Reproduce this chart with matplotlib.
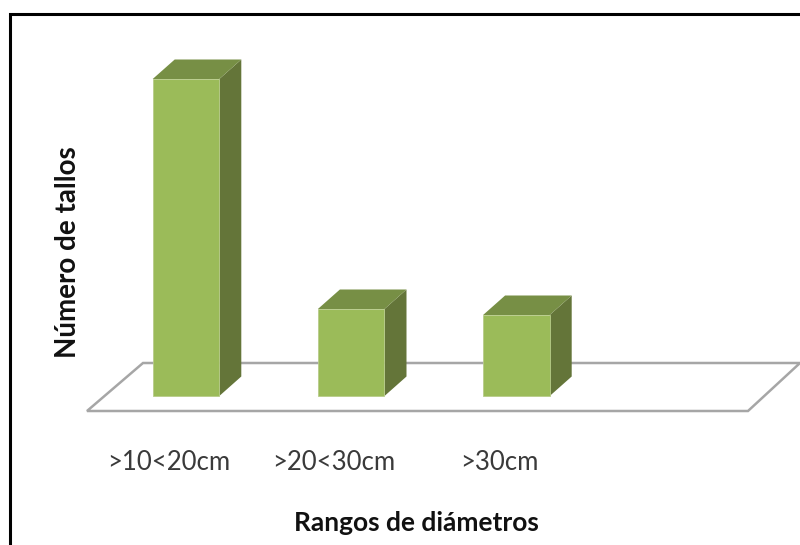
import matplotlib
matplotlib.use("Agg")
import matplotlib.pyplot as plt
from matplotlib.patches import Polygon, Rectangle

categories = [">10<20cm", ">20<30cm", ">30cm"]
stems = [317, 87, 81]

FACE = "#9bbb59"
TOP = "#778f45"
SIDE = "#647539"
EDGE = "#b8cc8a"
FLOOR = "#a6a6a6"
TEXT = "#3a3a3a"

plt.rcParams["font.family"] = ["Lato", "DejaVu Sans"]

W, H = 800, 545
fig = plt.figure(figsize=(W / 100, H / 100), dpi=100, facecolor="white")
ax = fig.add_axes([0, 0, 1, 1])

# One category step is 165.2 px wide; one stem is one pixel tall, baseline at y=396 px.
step = 165.2
x0 = 186.0
base = 396.0
ax.set_xlim(-x0 / step, (W - x0) / step)
ax.set_ylim(base - H, base)
ax.axis("off")

half = 33.3 / step
dx = 22.0 / step
dy = 19.5

# Floor of the 3D plot area, drawn behind the columns
floor = [(-99 / step, -15), (562 / step, -15), (614 / step, 33), (-43 / step, 33)]
ax.add_patch(Polygon(floor, closed=True, facecolor="white", edgecolor=FLOOR, lw=1.8, zorder=1))

for i, value in enumerate(stems):
    left, right = i - half, i + half
    ax.add_patch(Polygon([(right, 0), (right + dx, dy), (right + dx, value + dy), (right, value)],
                         closed=True, facecolor=SIDE, edgecolor="none", zorder=2))
    ax.add_patch(Polygon([(left, value), (right, value), (right + dx, value + dy), (left + dx, value + dy)],
                         closed=True, facecolor=TOP, edgecolor="none", zorder=2))
    ax.add_patch(Rectangle((left, 0), right - left, value, facecolor=FACE,
                           edgecolor=EDGE, lw=0.6, zorder=3))
    ax.text(i - 17.5 / step, -66, categories[i], ha="center", va="center",
            fontsize=18.5, color=TEXT)

ax.text(230 / step, -127, "Rangos de diámetros", ha="center", va="center",
        fontsize=19, fontweight="bold", color="#111111")
ax.text(-118 / step, 144, "Número de tallos", ha="center", va="center", rotation=90,
        fontsize=20, fontweight="bold", color="#111111")

# Heavy frame around the chart, running off the right and bottom edges
ax.plot([-176 / step, -176 / step, 700 / step], [-160, 382, 382], color="black", lw=2.2,
        solid_joinstyle="miter", zorder=5)

fig.savefig("out.png", dpi=100, facecolor="white")
